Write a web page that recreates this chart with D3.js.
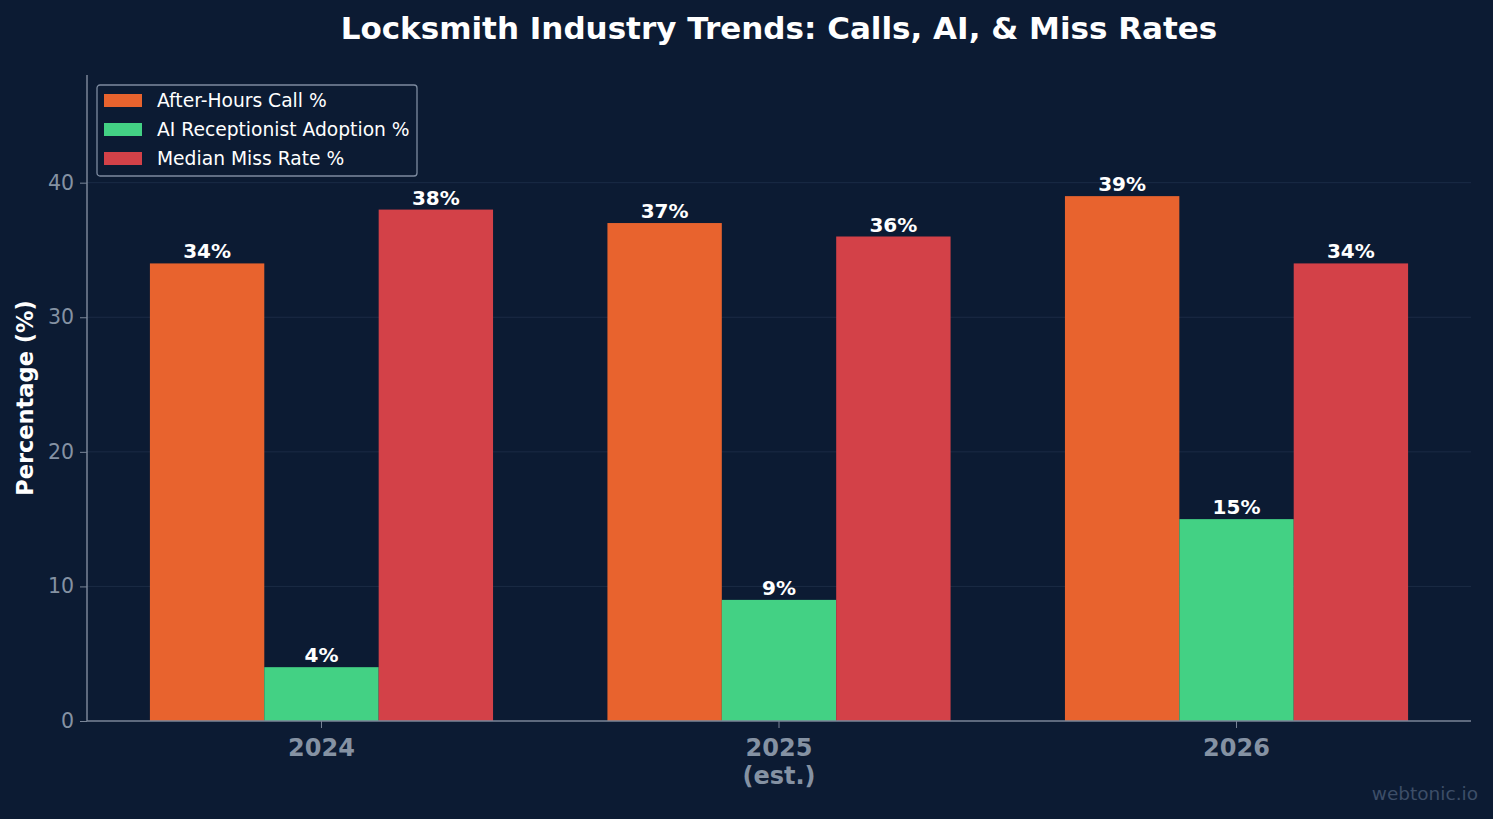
<html>
<head>
<script src="https://d3js.org/d3.v7.min.js"></script>
<style>
  body { margin: 0; background: #0c1b33; }
  text { font-family: "DejaVu Sans", sans-serif; }
</style>
</head>
<body>
<svg id="chart" width="1493" height="819"></svg>
<script>
const years = ["2024", "2025", "2026"];
const yearSub = ["", "(est.)", ""];
const seriesNames = ["After-Hours Call %", "AI Receptionist Adoption %", "Median Miss Rate %"];
const afterHours = [34, 37, 39];
const aiAdoption = [4, 9, 15];
const missRate = [38, 36, 34];
const yTicks = [0, 10, 20, 30, 40];
const colors = ["#e8632e", "#43d184", "#d34148"];

const svg = d3.select("#chart");
const margin = {top: 75, right: 22, bottom: 98, left: 87};
const W = 1493, H = 819;

svg.append("rect").attr("width", W).attr("height", H).attr("fill", "#0c1b33");

const x = d3.scaleLinear().domain([-0.5125, 2.5125]).range([margin.left, W - margin.right]);
const y = d3.scaleLinear().domain([0, 48]).range([H - margin.bottom, margin.top]);

// grid
svg.append("g").selectAll("line").data(yTicks.slice(1)).join("line")
  .attr("x1", margin.left).attr("x2", W - margin.right)
  .attr("y1", d => y(d)).attr("y2", d => y(d))
  .attr("stroke", "#1b2b45").attr("stroke-width", 1);

const series = [afterHours, aiAdoption, missRate];
const bw = 0.25;
series.forEach((vals, si) => {
  const off = (si - 1) * bw;
  const g = svg.append("g");
  g.selectAll("rect").data(vals).join("rect")
    .attr("x", (d, i) => x(i + off - bw / 2))
    .attr("width", x(bw) - x(0))
    .attr("y", d => y(d))
    .attr("height", d => y(0) - y(d))
    .attr("fill", colors[si]);
  g.selectAll("text").data(vals).join("text")
    .attr("x", (d, i) => x(i + off))
    .attr("y", d => y(d) - 5)
    .attr("text-anchor", "middle")
    .attr("fill", "#ffffff")
    .attr("font-weight", "bold")
    .attr("font-size", "20px")
    .text(d => d + "%");
});

// axes
const yAxis = d3.axisLeft(y).tickValues(yTicks).tickSize(7).tickPadding(6);
const ya = svg.append("g").attr("transform", `translate(${margin.left},0)`).call(yAxis);
ya.select(".domain").remove();
ya.selectAll("line").attr("stroke", "#7a8699");
ya.selectAll("text").attr("fill", "#8592a3").attr("font-size", "20.5px").attr("font-family", "DejaVu Sans");

svg.append("line").attr("x1", margin.left).attr("x2", margin.left)
  .attr("y1", margin.top).attr("y2", y(0)).attr("stroke", "#7a8699").attr("stroke-width", 1.5);
svg.append("line").attr("x1", margin.left).attr("x2", W - margin.right)
  .attr("y1", y(0)).attr("y2", y(0)).attr("stroke", "#7a8699").attr("stroke-width", 1.5);

const xg = svg.append("g");
years.forEach((yr, i) => {
  xg.append("line").attr("x1", x(i)).attr("x2", x(i))
    .attr("y1", y(0)).attr("y2", y(0) + 7).attr("stroke", "#7a8699");
  const t = xg.append("text").attr("x", x(i)).attr("y", y(0) + 35)
    .attr("text-anchor", "middle").attr("fill", "#8592a3")
    .attr("font-weight", "bold").attr("font-size", "24px");
  t.append("tspan").attr("x", x(i)).text(yr);
  if (yearSub[i]) t.append("tspan").attr("x", x(i)).attr("dy", 28).text(yearSub[i]);
});

// title
svg.append("text").attr("x", (margin.left + W - margin.right) / 2).attr("y", 39)
  .attr("text-anchor", "middle").attr("fill", "#ffffff")
  .attr("font-weight", "bold").attr("font-size", "31px")
  .text("Locksmith Industry Trends: Calls, AI, & Miss Rates");

// y label
svg.append("text").attr("transform", `translate(33,398) rotate(-90)`)
  .attr("text-anchor", "middle").attr("fill", "#ffffff")
  .attr("font-weight", "bold").attr("font-size", "22.5px")
  .text("Percentage (%)");

// legend
const lg = svg.append("g").attr("transform", "translate(97,85)");
lg.append("rect").attr("width", 320).attr("height", 91).attr("rx", 3)
  .attr("fill", "#0c1b33").attr("stroke", "#7d8ba0").attr("stroke-width", 1.3);
seriesNames.forEach((s, i) => {
  lg.append("rect").attr("x", 7).attr("y", 9 + i * 29).attr("width", 38).attr("height", 13)
    .attr("fill", colors[i]);
  lg.append("text").attr("x", 60).attr("y", 22 + i * 29).attr("fill", "#ffffff")
    .attr("font-size", "18.7px").text(s);
});

// watermark
svg.append("text").attr("x", 1478).attr("y", 800).attr("text-anchor", "end")
  .attr("fill", "#3d4e68").attr("font-size", "18.5px").text("webtonic.io");
</script>
</body>
</html>
